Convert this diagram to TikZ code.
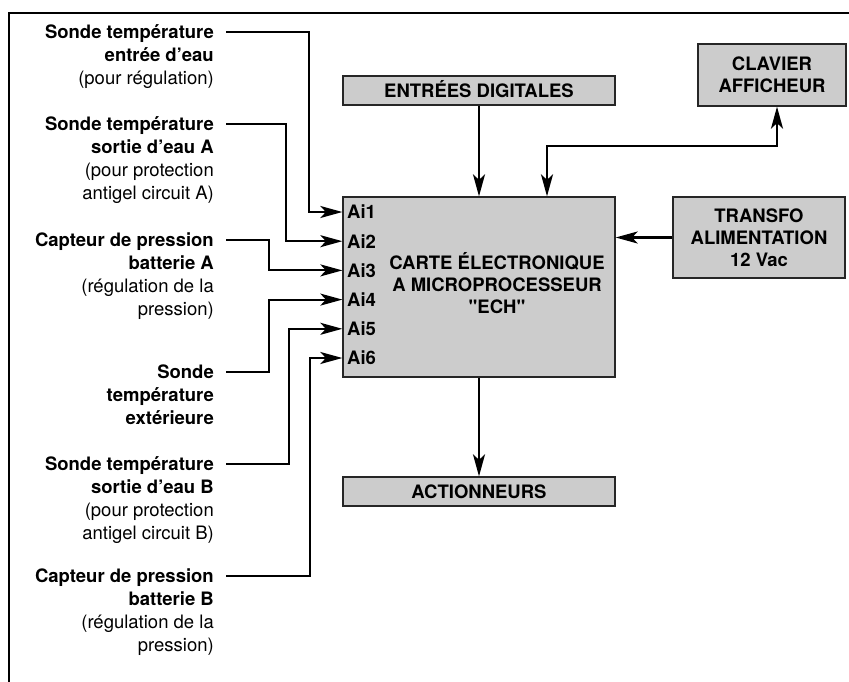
\documentclass[tikz,border=0pt]{standalone}
\usepackage{fontspec}
\setmainfont{TeX Gyre Heros}[Ligatures=TeXOff]
\usetikzlibrary{arrows.meta,calc}
\definecolor{boxgray}{HTML}{CCCCCC}
\begin{document}
\begin{tikzpicture}[x=1pt,y=-1pt,
  box/.style={draw=black!85, line width=1.3pt, fill=boxgray, inner sep=0pt,
    font=\bfseries\fontsize{18.5}{22}\selectfont, align=center},
  lab/.style={align=right, anchor=north east, inner sep=0pt,
    font=\fontsize{18.5}{23}\selectfont},
  ailab/.style={anchor=west, inner sep=0pt, font=\bfseries\fontsize{18.5}{22}\selectfont},
  mtext/.style={anchor=north, align=center, inner sep=0pt, font=\bfseries\fontsize{18.5}{22}\selectfont},
  tip/.tip={Stealth[length=22pt,width=12pt,inset=5.5pt]},
  conn/.style={line width=2.1pt, -tip},
  dconn/.style={line width=2.1pt, tip-tip},
  frame/.style={line width=1.4pt}]
\useasboundingbox (0,0) rectangle (849,682);
\draw[frame] (9,682) -- (9,13) -- (849,13);

% boxes
\node[box, minimum width=272pt, minimum height=180pt] (main) at (479,287) {};
\node[mtext] (mt) at (497,251) {\rule{0pt}{18pt}CARTE ÉLECTRONIQUE\\A MICROPROCESSEUR\\"ECH"};
\node[box, minimum width=272pt, minimum height=29pt, text height=13.3pt, text depth=0pt] (ent) at (479,90.5) {ENTRÉES DIGITALES};
\node[box, minimum width=272pt, minimum height=29pt, text height=13.3pt, text depth=0pt] (act) at (479,491.5) {ACTIONNEURS};
\node[box, minimum width=148pt, minimum height=62pt] (clav) at (772,75) {CLAVIER\\AFFICHEUR};
\node[box, minimum width=172pt, minimum height=81pt] (tr) at (759,237.5) {TRANSFO\\ALIMENTATION\\12 Vac};

% Ai labels
\node[ailab] (ai1) at (347,212) {Ai1};
\node[ailab] (ai2) at (347,241.2) {Ai2};
\node[ailab] (ai3) at (347,270.4) {Ai3};
\node[ailab] (ai4) at (347,299.6) {Ai4};
\node[ailab] (ai5) at (347,328.8) {Ai5};
\node[ailab] (ai6) at (347,358) {Ai6};

% left labels
\node[lab] (l1) at (214,23.5) {\rule{0pt}{15pt}\textbf{Sonde température}\\\textbf{entrée d’eau}\\(pour régulation)};
\node[lab] (l2) at (214,115.5) {\rule{0pt}{15pt}\textbf{Sonde température}\\\textbf{sortie d’eau A}\\(pour protection\\antigel circuit A)};
\node[lab] (l3) at (214,231.5) {\rule{0pt}{15pt}\textbf{Capteur de pression}\\\textbf{batterie A}\\(régulation de la\\pression)};
\node[lab] (l4) at (214,363.5) {\rule{0pt}{15pt}\textbf{Sonde}\\\textbf{température}\\\textbf{extérieure}};
\node[lab] (l5) at (214,455.5) {\rule{0pt}{15pt}\textbf{Sonde température}\\\textbf{sortie d’eau B}\\(pour protection\\antigel circuit B)};
\node[lab] (l6) at (214,567.5) {\rule{0pt}{15pt}\textbf{Capteur de pression}\\\textbf{batterie B}\\(régulation de la\\pression)};

% left connectors
\draw[conn] ($(l1.north east)+(12,8.5)$) -| ($(main.west|-ai1)+(-33,0)$) -- (main.west|-ai1);
\draw[conn] ($(l2.north east)+(12,8.5)$) -| ($(main.west|-ai2)+(-56,0)$) -- (main.west|-ai2);
\draw[conn] ($(l3.north east)+(12,8.5)$) -| ($(main.west|-ai3)+(-73,0)$) -- (main.west|-ai3);
\draw[conn] ($(l4.north east)+(12,8.5)$) -| ($(main.west|-ai4)+(-73,0)$) -- (main.west|-ai4);
\draw[conn] ($(l5.north east)+(12,8.5)$) -| ($(main.west|-ai5)+(-53,0)$) -- (main.west|-ai5);
\draw[conn] ($(l6.north east)+(12,8.5)$) -| ($(main.west|-ai6)+(-32,0)$) -- (main.west|-ai6);

% other connectors
\draw[conn] (ent.south) -- (main.north);
\draw[conn] (main.south) -- (act.north);
\draw[conn] (tr.west) -- (main.east|-tr.west);
\coordinate (b1) at (547,146);
\coordinate (b2) at (777,146);
\draw[dconn] (main.north-|b1) -- (b1) -- (b2) -- (clav.south-|b2);
\end{tikzpicture}
\end{document}
